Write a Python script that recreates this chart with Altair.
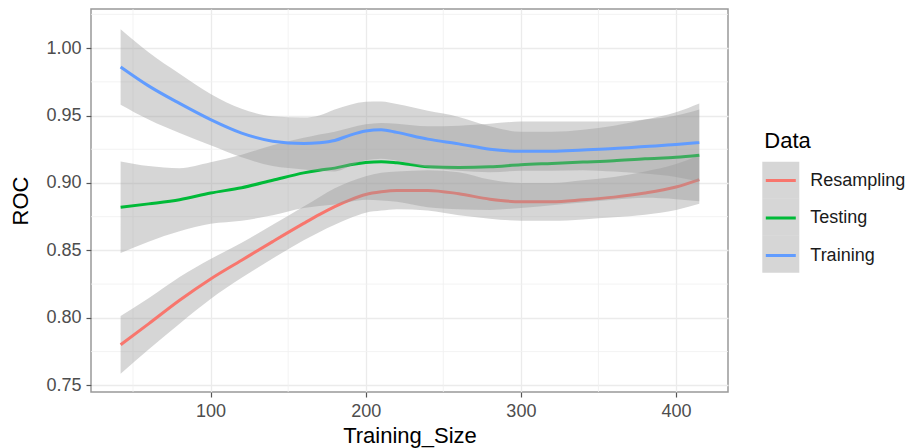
import altair as alt
import pandas as pd

FONT = "Liberation Sans"

# ---- data ----
categories = ["Resampling", "Testing", "Training"]
line_colors = ["#F8766D", "#00BA38", "#619CFF"]

sizes = [42, 60, 80, 100, 120, 140, 160, 170, 180, 190, 200, 210, 220, 240, 260, 280, 300,
         320, 340, 360, 380, 400, 415]

resampling_fit = [0.780, 0.7955, 0.813, 0.8288, 0.8427, 0.8565, 0.870, 0.8765, 0.8825, 0.8875,
                  0.8915, 0.8935, 0.8945, 0.8945, 0.892, 0.888, 0.886, 0.886, 0.8875, 0.8895,
                  0.8925, 0.897, 0.9025]
resampling_lo = [0.7586, 0.7765, 0.7957, 0.8140, 0.8297, 0.8440, 0.8575, 0.8635, 0.8690, 0.8740,
                 0.8780, 0.8795, 0.8805, 0.8795, 0.8760, 0.8735, 0.8720, 0.8720, 0.8730, 0.8745,
                 0.8765, 0.8800, 0.8845]
resampling_hi = [0.8014, 0.8145, 0.8303, 0.8436, 0.8557, 0.8690, 0.8825, 0.8895, 0.8960, 0.9010,
                 0.9050, 0.9075, 0.9085, 0.9095, 0.9080, 0.9025, 0.9000, 0.9000, 0.9020, 0.9045,
                 0.9085, 0.9140, 0.9205]

testing_fit = [0.882, 0.8845, 0.8876, 0.8925, 0.8965, 0.902, 0.9075, 0.9095, 0.911, 0.9135,
               0.9152, 0.9158, 0.915, 0.912, 0.9115, 0.912, 0.9135, 0.9145, 0.9155, 0.9165,
               0.918, 0.919, 0.9205]
testing_lo = [0.848, 0.8565, 0.8642, 0.8697, 0.872, 0.876, 0.8815, 0.883, 0.884, 0.886,
              0.8875, 0.887, 0.886, 0.882, 0.8805, 0.880, 0.8815, 0.8835, 0.8855, 0.8875,
              0.889, 0.888, 0.8865]
testing_hi = [0.916, 0.9125, 0.911, 0.9153, 0.921, 0.928, 0.9335, 0.936, 0.938, 0.941,
              0.9435, 0.9445, 0.944, 0.942, 0.9425, 0.944, 0.9455, 0.9455, 0.9455, 0.9455,
              0.947, 0.950, 0.9545]

training_fit = [0.986, 0.972, 0.959, 0.947, 0.937, 0.931, 0.9292, 0.9298, 0.9315, 0.9355,
                0.9385, 0.9395, 0.9375, 0.9325, 0.929, 0.925, 0.9235, 0.9235, 0.9245, 0.9255,
                0.927, 0.9285, 0.930]
training_lo = [0.958, 0.947, 0.937, 0.928, 0.919, 0.9125, 0.910, 0.909, 0.9085, 0.9125,
               0.9168, 0.918, 0.9165, 0.9115, 0.909, 0.908, 0.909, 0.909, 0.9095, 0.9085,
               0.907, 0.9045, 0.901]
training_hi = [1.014, 0.997, 0.981, 0.966, 0.955, 0.9495, 0.9485, 0.950, 0.9545, 0.958,
               0.9602, 0.9605, 0.9585, 0.9535, 0.949, 0.942, 0.938, 0.938, 0.9395, 0.9425,
               0.947, 0.9525, 0.959]

x_ticks = [100, 200, 300, 400]
x_minor = [50, 150, 250, 350]
y_ticks = [0.75, 0.80, 0.85, 0.90, 0.95, 1.00]
y_minor = [0.775, 0.825, 0.875, 0.925, 0.975, 1.025]

series = {
    "Resampling": (resampling_fit, resampling_lo, resampling_hi),
    "Testing": (testing_fit, testing_lo, testing_hi),
    "Training": (training_fit, training_lo, training_hi),
}

rows = []
for name in categories:
    fit, lo, hi = series[name]
    for s, f, l, h in zip(sizes, fit, lo, hi):
        rows.append({"Training_Size": s, "Data": name, "Band": name,
                     "ROC": f, "lower": l, "upper": h})
df = pd.DataFrame(rows)

# ---- axes / scales ----
x_scale = alt.Scale(domain=[22.9, 433.5], nice=False, zero=False)
y_scale = alt.Scale(domain=[0.745, 1.029], nice=False, zero=False)

x_axis = alt.Axis(values=x_ticks, title="Training_Size", titleFont=FONT, titleFontSize=22,
                  titleFontWeight="normal", titleColor="black", titlePadding=5,
                  labelFont=FONT, labelFontSize=18, labelColor="#4D4D4D", labelPadding=5,
                  labelFlush=False, tickSize=5, tickColor="#555555", tickWidth=1.2,
                  domain=False, grid=True, gridColor="#EBEBEB", gridWidth=1.3)
y_axis = alt.Axis(values=y_ticks, format=".2f", title="ROC", titleFont=FONT, titleFontSize=22,
                  titleFontWeight="normal", titleColor="black", titlePadding=13.5,
                  labelFont=FONT, labelFontSize=18, labelColor="#4D4D4D", labelPadding=5,
                  tickSize=5, tickColor="#555555", tickWidth=1.2,
                  domain=False, grid=True, gridColor="#EBEBEB", gridWidth=1.3)

x_enc = alt.X("Training_Size:Q", scale=x_scale, axis=x_axis)

color_legend = alt.Legend(orient="none", legendX=673.3, legendY=122, title="Data",
                          titleFont=FONT, titleFontSize=22, titleFontWeight="normal",
                          titleColor="black", titlePadding=11, symbolType="stroke",
                          symbolSize=900, symbolStrokeWidth=3, labelFont=FONT,
                          labelFontSize=18, labelColor="#1A1A1A", labelOffset=13,
                          rowPadding=11.5, padding=0)
fill_legend = alt.Legend(orient="none", legendX=671.3, legendY=152.7, title=None,
                         symbolType="square", symbolSize=1369, symbolStrokeWidth=0,
                         symbolStrokeColor="transparent", symbolOpacity=0.4,
                         labelExpr="''", labelFontSize=10, rowPadding=0, padding=0)

base = alt.Chart(df)

# minor grid lines
xminor_layer = alt.Chart(pd.DataFrame({"Training_Size": x_minor})).mark_rule(
    color="#F0F0F0", strokeWidth=0.8).encode(x=x_enc)
yminor_layer = alt.Chart(pd.DataFrame({"ROC": y_minor})).mark_rule(
    color="#F0F0F0", strokeWidth=0.8).encode(y=alt.Y("ROC:Q", scale=y_scale, axis=y_axis))

layers = [xminor_layer, yminor_layer]
for name in categories:
    sub = base.transform_filter(alt.datum.Data == name)
    band = sub.mark_area(opacity=0.4, interpolate="monotone").encode(
        x=x_enc,
        y=alt.Y("lower:Q", scale=y_scale, axis=y_axis),
        y2="upper:Q",
        fill=alt.Fill("Band:N", scale=alt.Scale(range=["#999999"]), legend=fill_legend),
    )
    line = sub.mark_line(strokeWidth=3, interpolate="monotone").encode(
        x=x_enc,
        y=alt.Y("ROC:Q", scale=y_scale, axis=y_axis),
        color=alt.Color("Data:N", scale=alt.Scale(range=line_colors), legend=color_legend),
    )
    layers += [band, line]

chart = alt.layer(*layers).properties(
    width=637, height=383,
    padding={"left": 1, "top": 0, "right": 0, "bottom": 8},
    background="white",
).configure_view(stroke="#999999", strokeWidth=1.5)

chart.save("out.html", embed_options={"renderer": "svg", "actions": False})
